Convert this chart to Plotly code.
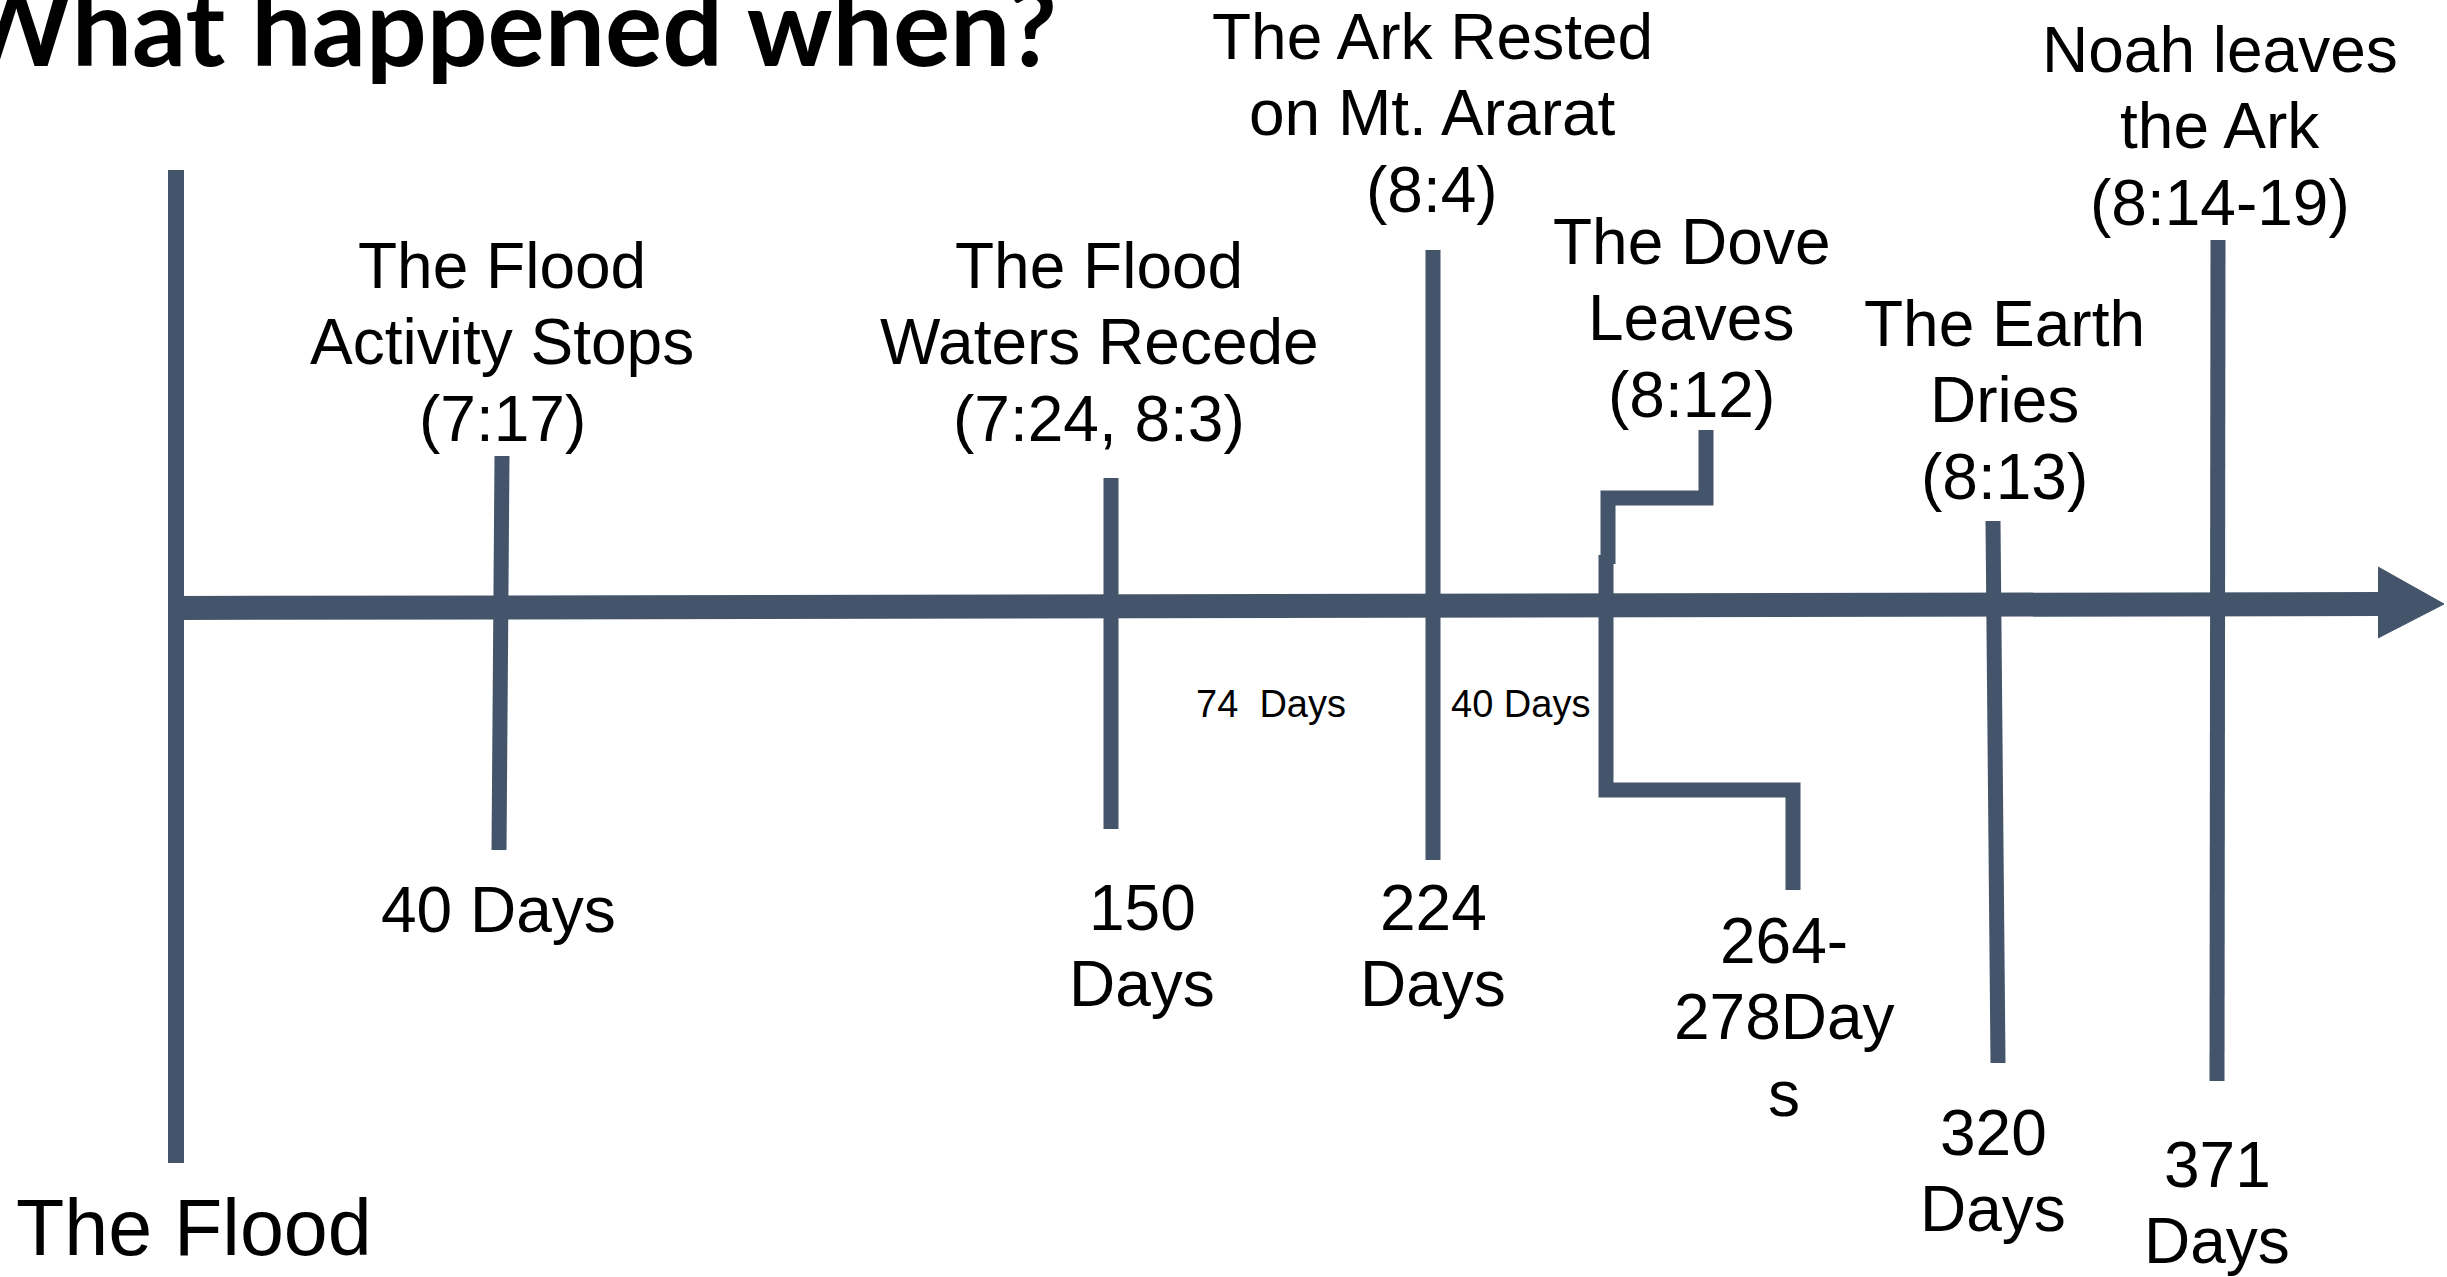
import plotly.graph_objects as go

# ---------------- data ----------------
title_text = "What happened when?"
start_label = "The Flood"
event_titles = [
    ["The Flood", "Activity Stops", "(7:17)"],
    ["The Flood", "Waters Recede", "(7:24, 8:3)"],
    ["The Ark Rested", "on Mt. Ararat", "(8:4)"],
    ["The Dove", "Leaves", "(8:12)"],
    ["The Earth", "Dries", "(8:13)"],
    ["Noah leaves", "the Ark", "(8:14-19)"],
]
day_labels = [
    ["40 Days"],
    ["150", "Days"],
    ["224", "Days"],
    ["264-", "278Day", "s"],
    ["320", "Days"],
    ["371", "Days"],
]
gap_labels = ["74\u00a0 Days", "40 Days"]

# ---------------- layout (canvas units, schematic timeline) ----------------
W, H = 2447, 1277
LINE = "#44546A"
FONT = "Liberation Sans, Arial, sans-serif"
LS = 76.5  # line spacing of label text

axis_x = [176, 2378]
axis_y = [608, 604]
arrow_x = [2378, 2444, 2378]
arrow_y = [567, 604, 638]
start_line_x = [176, 176]
start_line_y = [170, 1163]

# plain tick lines (events 0,1,2,4,5)
tick_x_top = [502, 1111, 1433, 1993, 2218]
tick_x_bot = [499, 1111, 1433, 1998, 2217]
tick_top = [456, 478, 250, 521, 240]
tick_bot = [850, 829, 860, 1063, 1081]
# dove bracket (event 3)
dove_upper_x = [1706, 1706, 1608, 1608]
dove_upper_y = [430, 498, 498, 564]
dove_lower_x = [1606, 1606, 1793, 1793]
dove_lower_y = [555, 790, 790, 890]

event_pos = [(502, 288), (1099, 288), (1432, 59), (1691, 264), (2004, 346), (2220, 72)]
day_pos = [(498, 932), (1142, 930), (1433, 930), (1784, 963), (1993, 1155), (2217, 1187)]
gap_pos = [(1271, 717), (1520, 717)]
start_pos = (194, 1255)
title_pos = (1059, 66)

fig = go.Figure()

def seg(x, y, w):
    fig.add_trace(go.Scatter(x=x, y=y, mode="lines", line=dict(color=LINE, width=w),
                             hoverinfo="skip", showlegend=False))

seg(axis_x, axis_y, 24)
fig.add_trace(go.Scatter(x=arrow_x, y=arrow_y, mode="lines", fill="toself",
                         fillcolor=LINE, line=dict(color=LINE, width=1),
                         hoverinfo="skip", showlegend=False))
seg(start_line_x, start_line_y, 16)
for xt, xb, yt, yb in zip(tick_x_top, tick_x_bot, tick_top, tick_bot):
    seg([xt, xb], [yt, yb], 15)
seg(dove_upper_x, dove_upper_y, 15)
seg(dove_lower_x, dove_lower_y, 15)

annotations = []

def add_lines(lines, x, base, size, family=FONT, weight="normal", asc=0.905, desc=0.212,
              xanchor="center"):
    off = (asc - desc) / 2 * size
    for i, t in enumerate(lines):
        annotations.append(dict(
            x=x, y=base + i * LS - off, xref="x", yref="y", text=t, showarrow=False,
            xanchor=xanchor, yanchor="middle",
            font=dict(family=family, size=size, color="black", weight=weight)))

for lines, (x, b) in zip(event_titles, event_pos):
    add_lines(lines, x, b, 64)
for lines, (x, b) in zip(day_labels, day_pos):
    add_lines(lines, x, b, 64)
for t, (x, b) in zip(gap_labels, gap_pos):
    add_lines([t], x, b, 38)
add_lines([start_label], start_pos[0], start_pos[1], 79)
add_lines([title_text], title_pos[0], title_pos[1], 107, family="Lato, sans-serif",
          weight="bold", asc=0.987, desc=0.213, xanchor="right")

fig.update_layout(
    width=W, height=H, margin=dict(l=0, r=0, t=0, b=0),
    paper_bgcolor="white", plot_bgcolor="white",
    xaxis=dict(range=[0, W], visible=False, fixedrange=True),
    yaxis=dict(range=[H, 0], visible=False, fixedrange=True),
    annotations=annotations, showlegend=False,
)

fig.write_html("out.html", config={"displayModeBar": False},
               post_script="document.body.style.margin='0';document.body.style.overflow='hidden';")
